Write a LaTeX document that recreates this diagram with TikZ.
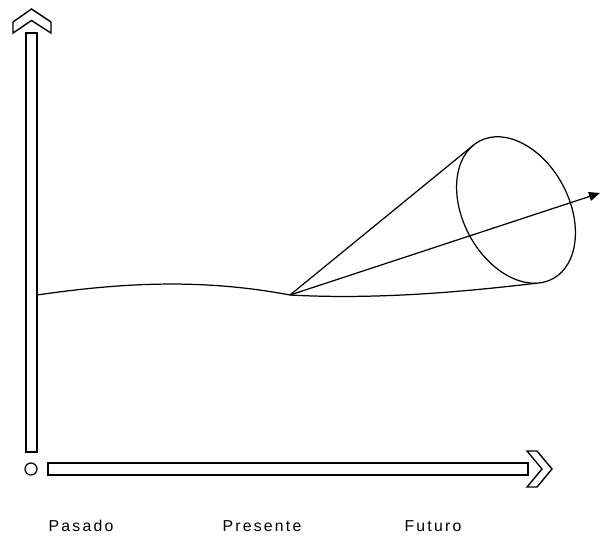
\documentclass[tikz,border=0pt]{standalone}
\usepackage{fontspec}
\usepackage{tikz}
\usetikzlibrary{arrows.meta, calc}
\newfontfamily\tiempofont[LetterSpace=14]{Liberation Sans}

\begin{document}
\begin{tikzpicture}[x=0.02cm, y=-0.02cm,
    bar/.style={line width=0.8pt, fill=white},
    linea/.style={line width=0.7pt},
    etiqueta/.style={font=\tiempofont\fontsize{9}{11}\selectfont, anchor=base}]
  \useasboundingbox (0,0) rectangle (601,538);

  % vertical axis with its chevron
  \draw[bar] (26,33) rectangle (37,452);
  \draw[bar] (13,22) -- (31.5,9) -- (51,22) -- (51,33) -- (31.5,20.5) -- (13,33) -- cycle;
  \draw[linea] (31,469) circle (6);

  % horizontal axis with its chevron
  \draw[bar] (48,463) rectangle (528,475);
  \draw[bar] (527,451) -- (537,451) -- (552,469) -- (537,487) -- (527,487) -- (542,469) -- cycle;

  % the past: a wavy line up to the present
  \coordinate (origen) at (37,295);
  \coordinate (presente) at (290,295);
  \draw[linea] (origen) .. controls (120,283) and (200,278) .. (presente);

  % the cone of possible futures
  \coordinate (centro) at (516,210);
  \coordinate (tanA) at (473.5,145.1);
  \coordinate (tanB) at (536.6,283.2);
  \draw[linea, rotate around={28:(centro)}] (centro) ellipse [x radius=53, y radius=78];
  \draw[linea] (presente) -- (tanA);
  \draw[linea] (presente) .. controls (380,300) and (470,291) .. (tanB);
  \coordinate (meta) at (600,193);
  \draw[linea, -{Triangle[length=2.2mm, width=1.8mm]}] (presente) -- (meta);

  % labels under the time axis
  \node[etiqueta] (pasado) at (81,531) {Pasado};
  \node[etiqueta] (hoy) at (262,531) {Presente};
  \node[etiqueta] (futuro) at (433,531) {Futuro};
\end{tikzpicture}
\end{document}
